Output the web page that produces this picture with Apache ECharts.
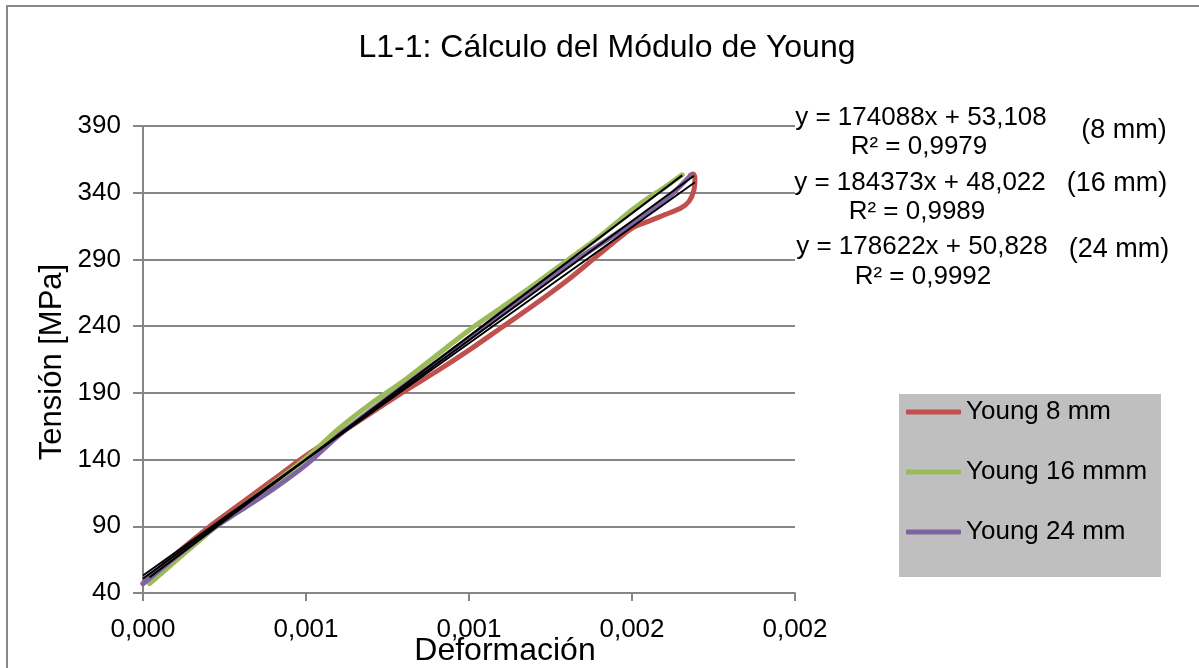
<!DOCTYPE html>
<html><head><meta charset="utf-8">
<script src="https://cdn.jsdelivr.net/npm/echarts@6/dist/echarts.min.js"></script>
<style>html,body{margin:0;padding:0;background:#fff}#c{width:1199px;height:668px}</style>
</head><body><div id="c"></div><script>
// ---- data ----
const xTickLabels = ['0,000', '0,001', '0,001', '0,002', '0,002'];
const seriesNames = ['Young 8 mm', 'Young 16 mmm', 'Young 24 mm'];
const seriesColors = ['#C0504D', '#9BBB59', '#8064A2'];

const strain8 = [0, 0.0001, 0.0002, 0.0003, 0.0004, 0.0005, 0.0006, 0.0007, 0.0008, 0.0009, 0.001, 0.0011, 0.0012, 0.0013, 0.0014, 0.0015, 0.00155, 0.0016, 0.00165, 0.001675, 0.00169, 0.001693, 0.001688, 0.00168];
const stress8 = [47, 69, 89, 107, 125, 143, 159, 175, 191, 206, 222, 239, 256, 274, 294, 313.5, 318.5, 323.5, 328.5, 333.5, 342, 351, 354, 353.3];

const strain16 = [0.00002, 0.0001, 0.0002, 0.0003, 0.0004, 0.0005, 0.0006, 0.0007, 0.0008, 0.0009, 0.001, 0.0011, 0.0012, 0.0013, 0.0014, 0.0015, 0.00155, 0.0016, 0.001654];
const stress16 = [47, 64, 85, 104, 122, 141, 163, 182, 199, 218, 237, 254, 271, 289, 307, 327, 336, 344, 353.4];

const strain24 = [0, 0.0001, 0.0002, 0.0003, 0.0004, 0.0005, 0.0006, 0.0007, 0.0008, 0.0009, 0.001, 0.0011, 0.0012, 0.0013, 0.0014, 0.0015, 0.0016, 0.00168];
const stress24 = [47, 67, 86, 102, 118, 136, 158, 177, 195, 213, 231, 250, 268, 285, 301, 317, 334, 353];

const trendStrain8 = [0, 0.001693], trendStress8 = [53.1, 347.8];
const trendStrain16 = [0.00002, 0.001654], trendStress16 = [51.7, 353.0];
const trendStrain24 = [0, 0.00169], trendStress24 = [50.8, 352.7];

const equations = ['y = 174088x + 53,108', 'y = 184373x + 48,022', 'y = 178622x + 50,828'];
const r2Labels = ['R² = 0,9979', 'R² = 0,9989', 'R² = 0,9992'];
const sizeLabels = ['(8 mm)', '(16 mm)', '(24 mm)'];

// ---- chart ----
const FONT = '"Liberation Sans", Arial, sans-serif';
const zip = (a, b) => a.map((v, i) => [v, b[i]]);
const chart = echarts.init(document.getElementById('c'), null, {renderer: 'canvas'});

const dataSets = [zip(strain8, stress8), zip(strain16, stress16), zip(strain24, stress24)];
const trendSets = [zip(trendStrain8, trendStress8), zip(trendStrain16, trendStress16), zip(trendStrain24, trendStress24)];

const series = [];
dataSets.forEach((d, i) => series.push({
  name: seriesNames[i], type: 'line', data: d, smooth: 0.3, symbol: 'none',
  lineStyle: {color: seriesColors[i], width: 5, cap: 'round', join: 'round'},
  itemStyle: {color: seriesColors[i]}, z: 2
}));
trendSets.forEach((d, i) => series.push({
  name: 'trend' + i, type: 'line', data: d, symbol: 'none', silent: true,
  lineStyle: {color: '#000', width: 2}, z: 3
}));

const eqX = [921, 920, 922];
const eqY = [118, 183, 247];
const r2X = [919, 917, 923];
const r2Y = [147, 212, 277];
const szX = [1124, 1117, 1119];
const szY = [131, 184, 250];
const graphics = [
  {type: 'rect', z: 0, silent: true, shape: {x: 7, y: 6, width: 1400, height: 900}, style: {fill: 'none', stroke: '#888', lineWidth: 2}},
  {type: 'rect', z: 1, silent: true, shape: {x: 899, y: 394, width: 262, height: 183}, style: {fill: '#BFBFBF'}},
  {type: 'text', x: 607, y: 48, style: {text: 'L1-1: Cálculo del Módulo de Young', font: '32px ' + FONT, fill: '#000', align: 'center', verticalAlign: 'middle'}},
  {type: 'text', x: 52, y: 362, rotation: Math.PI / 2, style: {text: 'Tensión [MPa]', font: '31px ' + FONT, fill: '#000', align: 'center', verticalAlign: 'middle'}},
  {type: 'text', x: 505, y: 651, style: {text: 'Deformación', font: '32px ' + FONT, fill: '#000', align: 'center', verticalAlign: 'middle'}}
];
for (let i = 0; i < 3; i++) {
  graphics.push({type: 'text', x: eqX[i], y: eqY[i], style: {text: equations[i], font: '26px ' + FONT, fill: '#000', align: 'center', verticalAlign: 'middle'}});
  graphics.push({type: 'text', x: r2X[i], y: r2Y[i], style: {text: r2Labels[i], font: '26px ' + FONT, fill: '#000', align: 'center', verticalAlign: 'middle'}});
  graphics.push({type: 'text', x: szX[i], y: szY[i], style: {text: sizeLabels[i], font: '27px ' + FONT, fill: '#000', align: 'center', verticalAlign: 'middle'}});
}

chart.setOption({
  animation: false,
  backgroundColor: '#fff',
  textStyle: {fontFamily: FONT},
  grid: {left: 143, right: 404, top: 126, bottom: 75, containLabel: false},
  xAxis: {
    type: 'value', min: 0, max: 0.002, interval: 0.0005,
    axisLine: {show: true, lineStyle: {color: '#868686', width: 2}},
    axisTick: {show: true, length: 8, lineStyle: {color: '#868686', width: 2}},
    splitLine: {show: false},
    axisLabel: {fontSize: 26, color: '#000', fontFamily: FONT, margin: 24,
      formatter: v => xTickLabels[Math.round(v / 0.0005)]}
  },
  yAxis: {
    type: 'value', min: 40, max: 390, interval: 50,
    axisLine: {show: true, lineStyle: {color: '#868686', width: 2}},
    axisTick: {show: true, length: 10, lineStyle: {color: '#868686', width: 2}},
    splitLine: {show: true, lineStyle: {color: '#868686', width: 2}},
    axisLabel: {fontSize: 26, color: '#000', fontFamily: FONT, margin: 22}
  },
  legend: {
    data: seriesNames, orient: 'vertical', left: 901, top: 394, z: 10, padding: 5,
    itemWidth: 55, itemHeight: 5, itemGap: 34, icon: 'roundRect',
    textStyle: {fontSize: 26, color: '#000', fontFamily: FONT, lineHeight: 26}
  },
  graphic: graphics,
  series: series
});
</script></body></html>
